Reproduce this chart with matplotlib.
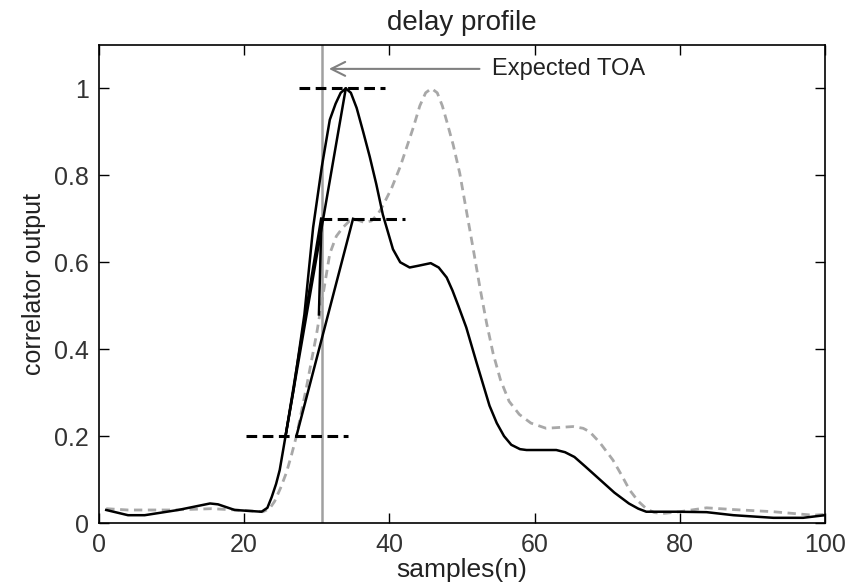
import matplotlib
matplotlib.use('Agg')
import matplotlib.pyplot as plt

plt.rcParams['font.family'] = ['Liberation Sans', 'DejaVu Sans']

# solid curve (black)
x_solid = [1, 4, 6.3, 10.9, 15.3, 16.4, 18.7, 22.4, 23.2, 23.8, 24.4, 24.9, 25.7, 26.8, 28.3, 29.5,
           30.7, 31.8, 32.6, 33.3, 34, 34.7, 35.5, 36.4, 37.3, 38.2, 39.1, 40.5, 41.5, 42.8, 44,
           45.7, 46.8, 47.9, 48.7, 49.5, 50.6, 52, 52.9, 53.8, 54.8, 55.8, 56.8, 58, 58.9, 63,
           64.2, 65.5, 67, 69, 71, 73, 74.3, 75.4, 79.6, 83.7, 87.4, 92.9, 97, 100]
y_solid = [0.03, 0.018, 0.018, 0.03, 0.045, 0.043, 0.03, 0.026, 0.035, 0.06, 0.09, 0.122, 0.2, 0.306, 0.48, 0.68,
           0.82, 0.928, 0.965, 0.99, 1.0, 0.99, 0.955, 0.9, 0.843, 0.78, 0.71, 0.63, 0.6, 0.588, 0.592,
           0.598, 0.588, 0.565, 0.535, 0.5, 0.45, 0.37, 0.32, 0.27, 0.23, 0.2, 0.18, 0.17, 0.168, 0.168,
           0.163, 0.152, 0.13, 0.1, 0.07, 0.045, 0.033, 0.026, 0.026, 0.025, 0.018, 0.012, 0.012, 0.018]

# dashed curve (grey)
x_dash = [1, 4, 10, 15.5, 18.9, 22.6, 23.5, 24.2, 25, 25.8, 26.5, 27.2, 28.6, 30, 30.9, 31.8, 32.7,
          33.6, 34.5, 35.5, 36.5, 37.5, 38.4, 39.1, 40.3, 41.5, 42.5, 43.3, 44.2, 45, 45.8, 46.6,
          47.3, 47.9, 48.8, 49.7, 50.6, 51.5, 52.5, 53.4, 54.3, 55.3, 56.5, 57.9, 59.5, 61.6, 63.5,
          65.3, 66.7, 67.6, 69, 70.8, 72, 73.1, 74.3, 75.4, 76.5, 77.7, 80, 83.7, 87.4, 92.9, 98.4, 100]
y_dash = [0.033, 0.03, 0.03, 0.033, 0.03, 0.026, 0.033, 0.05, 0.08, 0.115, 0.155, 0.2, 0.314, 0.437, 0.529, 0.62, 0.66,
          0.68, 0.695, 0.698, 0.692, 0.695, 0.71, 0.73, 0.77, 0.82, 0.87, 0.91, 0.96, 0.99, 1.0, 0.99,
          0.96, 0.925, 0.87, 0.805, 0.72, 0.636, 0.54, 0.46, 0.39, 0.33, 0.28, 0.25, 0.23, 0.218, 0.22,
          0.222, 0.218, 0.21, 0.185, 0.145, 0.11, 0.076, 0.05, 0.033, 0.024, 0.022, 0.026, 0.035, 0.031, 0.026, 0.018, 0.02]

# threshold levels and their extents
thr_y = [1.0, 0.7, 0.2]
thr_x0 = [27.6, 30.6, 20.3]
thr_x1 = [39.4, 42.1, 34.3]

# leading edge fit lines
fit_lines = [([25.7, 34.0], [0.2, 1.0]),
             ([25.7, 30.6], [0.2, 0.7]),
             ([27.2, 35.0], [0.2, 0.7]),
             ([30.3, 30.65], [0.48, 0.7])]

toa = 30.7

fig = plt.figure(figsize=(8.51, 5.88), dpi=100)
ax = fig.add_axes([0.1163, 0.1105, 0.853, 0.813])

ax.axvline(toa, color='#a0a0a0', lw=1.8, zorder=1)
ax.plot(x_dash, y_dash, color='#a8a8a8', lw=2, ls=(0, (3, 2)), zorder=2)
ax.plot(x_solid, y_solid, color='black', lw=1.8, zorder=3)
for xs, ys in fit_lines:
    ax.plot(xs, ys, color='black', lw=1.8, zorder=3)
for y, a, b in zip(thr_y, thr_x0, thr_x1):
    ax.plot([a, b], [y, y], color='black', lw=2.2, ls=(0, (3.5, 1.8)), zorder=4)

ax.annotate('', xy=(31.3, 1.045), xytext=(52.8, 1.045),
            arrowprops=dict(arrowstyle='->', color='#808080', lw=1.5, mutation_scale=25))
ax.text(54.1, 1.045, 'Expected TOA', fontsize=17, va='center', ha='left', color='#222222')

ax.set_xlim(0, 100)
ax.set_ylim(0, 1.1)
ax.set_xticks([0, 20, 40, 60, 80, 100])
ax.set_yticks([0, 0.2, 0.4, 0.6, 0.8, 1])
ax.set_yticklabels(['0', '0.2', '0.4', '0.6', '0.8', '1'])
ax.tick_params(direction='in', length=7, width=1, top=True, right=True,
               labelsize=18, labelcolor='#333333', pad=7)
for s in ax.spines.values():
    s.set_linewidth(1.2)

ax.set_xlabel('samples(n)', fontsize=19, color='#222222', labelpad=1)
ax.set_ylabel('correlator output', fontsize=18, color='#222222', labelpad=6)
ax.set_title('delay profile', fontsize=20, color='#222222', pad=11)

fig.savefig('out.png', dpi=100)
